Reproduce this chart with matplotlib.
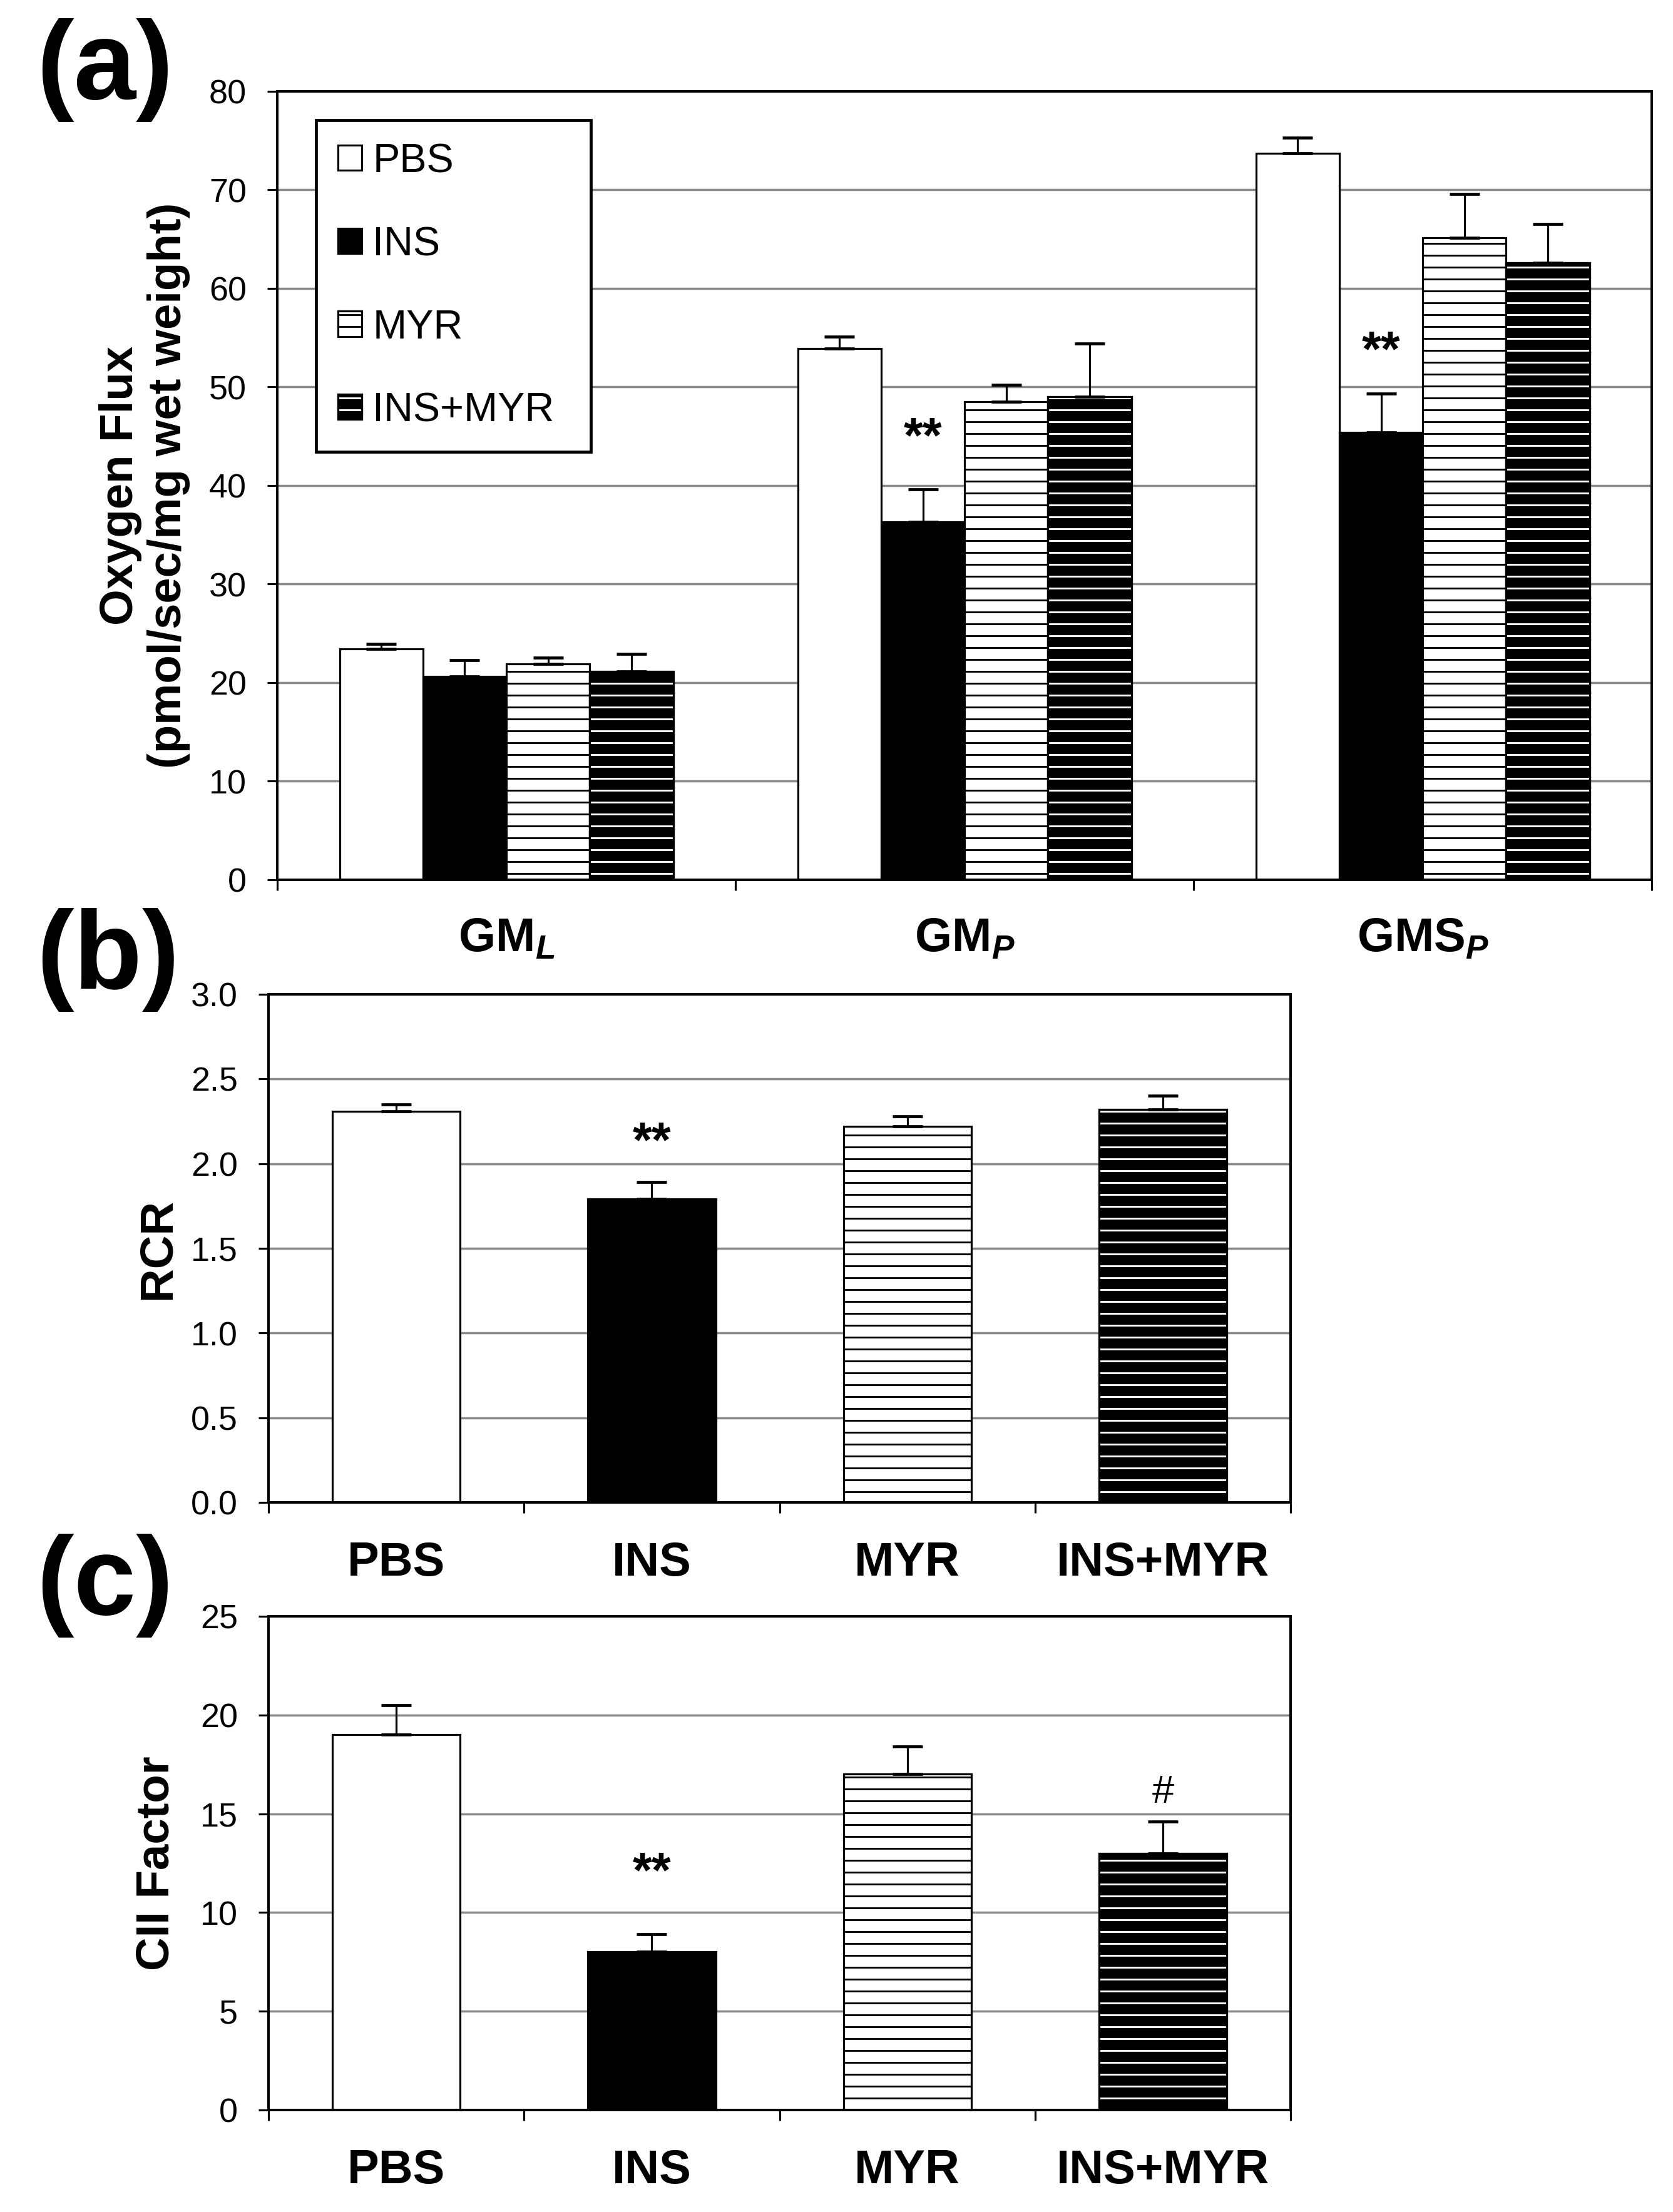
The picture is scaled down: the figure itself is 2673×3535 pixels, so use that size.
import numpy as np
import matplotlib
matplotlib.use("Agg")
import matplotlib.pyplot as plt
from matplotlib.patches import Rectangle

plt.rcParams['font.family'] = ['Liberation Sans', 'DejaVu Sans']
plt.rcParams['mathtext.fontset'] = 'custom'
plt.rcParams['mathtext.rm'] = 'Liberation Sans:bold'
plt.rcParams['mathtext.it'] = 'Liberation Sans:italic:bold'
plt.rcParams['mathtext.bf'] = 'Liberation Sans:bold'
plt.rcParams['hatch.linewidth'] = 1.8

# ---- data ----
groups = ["PBS", "INS", "MYR", "INS+MYR"]
states = [r"GM$_{\mathit{L}}$", r"GM$_{\mathit{P}}$", r"GMS$_{\mathit{P}}$"]

# (a) oxygen flux, one list per treatment over GM_L, GM_P, GMS_P
pbs_flux = [23.4, 53.9, 73.7]
pbs_flux_err = [0.5, 1.2, 1.6]
ins_flux = [20.6, 36.3, 45.4]
ins_flux_err = [1.7, 3.3, 3.9]
myr_flux = [21.9, 48.5, 65.1]
myr_flux_err = [0.6, 1.7, 4.5]
insmyr_flux = [21.1, 49.0, 62.6]
insmyr_flux_err = [1.8, 5.4, 3.9]

# (b) RCR
rcr = [2.31, 1.79, 2.22, 2.32]
rcr_err = [0.04, 0.10, 0.06, 0.08]

# (c) CII factor
cii = [19.0, 8.0, 17.0, 13.0]
cii_err = [1.5, 0.9, 1.4, 1.6]

# significance marks: (text, x index, y)
flux_marks = [("**", 1, 44.7), ("**", 2, 53.5)]   # on INS bars
rcr_marks = [("**", 1, 2.12)]
cii_marks = [("**", 1, 11.95), ("#", 3, 16.1)]

W, H, DPI = 2673, 3535, 114
fig = plt.figure(figsize=((W + 0.3) / DPI, (H + 0.3) / DPI), dpi=DPI)

ax_a = fig.add_axes([443 / W, 1 - 1406 / H, (2639 - 443) / W, (1406 - 146) / H])
ax_b = fig.add_axes([429 / W, 1 - 2401 / H, (2062 - 429) / W, (2401 - 1589) / H])
ax_c = fig.add_axes([429 / W, 1 - 3372 / H, (2062 - 429) / W, (3372 - 2583) / H])

EDGE = 2.0


def draw_bars(ax, x, h, err, style, width):
    if style == "PBS":
        ax.bar(x, h, width, color="white", edgecolor="black", lw=EDGE, zorder=2)
    elif style == "INS":
        ax.bar(x, h, width, color="black", edgecolor="black", lw=EDGE, zorder=2)
    elif style == "MYR":
        ax.bar(x, h, width, color="white", edgecolor="black", lw=EDGE,
               hatch="-", zorder=2)
    else:
        ax.bar(x, h, width, color="black", edgecolor="black", lw=EDGE, zorder=2)
        ax.bar(x, h, width, facecolor="none", edgecolor="white", lw=0,
               hatch="-", zorder=2.5)
        ax.bar(x, h, width, facecolor="none", edgecolor="black", lw=EDGE, zorder=3)
    ax.errorbar(x, h, yerr=[np.zeros(len(h)), err], fmt="none", ecolor="black",
                elinewidth=2, capsize=15, capthick=3, zorder=4)


def style_axes(ax, ncat, ymax, ystep, labels, fmt, label_pad):
    ax.set_xlim(-0.5, ncat - 0.5)
    ax.set_ylim(0, ymax)
    ticks = np.arange(0, ymax + ystep / 2, ystep)
    ax.set_yticks(ticks)
    ax.set_yticklabels([fmt.format(t) for t in ticks])
    ax.set_xticks(np.arange(ncat))
    ax.set_xticklabels(labels, fontsize=48, fontweight="bold")
    ax.set_xticks(np.arange(ncat + 1) - 0.5, minor=True)
    ax.tick_params(axis="x", which="major", length=0, pad=label_pad)
    ax.tick_params(axis="x", which="minor", direction="out", length=10.7,
                   width=2, color="black")
    ax.tick_params(axis="y", direction="out", length=10, width=2,
                   labelsize=34, pad=21)
    ax.yaxis.grid(True, color="#8a8a8a", lw=2.2)
    ax.set_axisbelow(True)
    for sp in ax.spines.values():
        sp.set_linewidth(2.5)
        sp.set_color("black")


# ---- (a) ----
xa = np.arange(len(states))
bw = 0.182
flux_series = [(pbs_flux, pbs_flux_err), (ins_flux, ins_flux_err),
               (myr_flux, myr_flux_err), (insmyr_flux, insmyr_flux_err)]
for i, (g, (vals, errs)) in enumerate(zip(groups, flux_series)):
    draw_bars(ax_a, xa + (i - 1.5) * bw, vals, errs, g, bw)
for txt, k, y in flux_marks:
    ax_a.text(xa[k] + (1 - 1.5) * bw, y, txt, ha="center", va="center",
              fontsize=50, fontweight="bold", zorder=6)
style_axes(ax_a, 3, 80, 10, states, "{:.0f}", 37)

h_pbs = Rectangle((0, 0), 1, 1, facecolor="white", edgecolor="black", lw=EDGE)
h_ins = Rectangle((0, 0), 1, 1, facecolor="black", edgecolor="black", lw=EDGE)
h_myr = Rectangle((0, 0), 1, 1, facecolor="white", edgecolor="black", lw=EDGE,
                  hatch="-")
h_im = (Rectangle((0, 0), 1, 1, facecolor="black", edgecolor="black", lw=EDGE),
        Rectangle((0, 0), 1, 1, facecolor="none", edgecolor="white", lw=0,
                  hatch="-"),
        Rectangle((0, 0), 1, 1, facecolor="none", edgecolor="black", lw=EDGE))
leg = ax_a.legend([h_pbs, h_ins, h_myr, h_im], groups, loc="upper left",
                  bbox_to_anchor=(0.028, 0.541, 0.2, 0.422), mode="expand",
                  fontsize=41, frameon=True, fancybox=False, framealpha=1,
                  edgecolor="black", borderpad=0.55, labelspacing=1.12,
                  handlelength=0.58, handleheight=0.58, handletextpad=0.27,
                  borderaxespad=0)
leg.get_frame().set_linewidth(3)

# ---- (b) ----
xb = np.arange(len(groups))
for i, g in enumerate(groups):
    draw_bars(ax_b, [xb[i]], [rcr[i]], [rcr_err[i]], g, 0.5)
for txt, k, y in rcr_marks:
    ax_b.text(xb[k], y, txt, ha="center", va="center", fontsize=50,
              fontweight="bold", zorder=6)
style_axes(ax_b, 4, 3.0, 0.5, groups, "{:.1f}", 39)

# ---- (c) ----
for i, g in enumerate(groups):
    draw_bars(ax_c, [xb[i]], [cii[i]], [cii_err[i]], g, 0.5)
for txt, k, y in cii_marks:
    ax_c.text(xb[k], y, txt, ha="center", va="center",
              fontsize=50 if txt == "**" else 40,
              fontweight="bold" if txt == "**" else "normal", zorder=6)
style_axes(ax_c, 4, 25, 5, groups, "{:.0f}", 39)

# y labels and panel letters
fig.text(231 / W, 1 - 776 / H, "Oxygen Flux\n(pmol/sec/mg wet weight)",
         rotation=90, ha="center", va="center", fontsize=47,
         fontweight="bold", linespacing=1.15)
fig.text(252 / W, 1 - 1995 / H, "RCR", rotation=90, ha="center", va="center",
         fontsize=47, fontweight="bold")
fig.text(250 / W, 1 - 2977 / H, "CII Factor", rotation=90, ha="center",
         va="center", fontsize=47, fontweight="bold")

for lab, yb in [("(a)", 158), ("(b)", 1580), ("(c)", 2580)]:
    fig.text(58 / W, 1 - yb / H, lab, ha="left", va="baseline", fontsize=113,
             fontweight="bold")

fig.savefig("out.png", dpi=DPI, facecolor="white")
